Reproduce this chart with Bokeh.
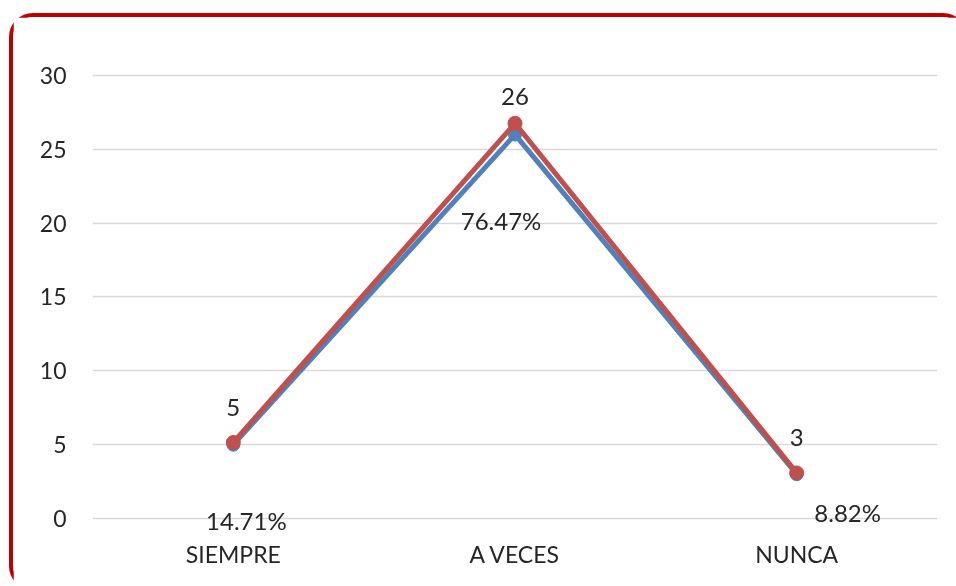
from bokeh.plotting import figure
from bokeh.models import ColumnDataSource, FixedTicker, Range1d
from bokeh.core.properties import value
from bokeh.embed import file_html
from bokeh.resources import INLINE

categories = ["SIEMPRE", "A VECES", "NUNCA"]
frecuencia = [5, 26, 3]
porcentaje = [14.71, 76.47, 8.82]
y_ticks = [0, 5, 10, 15, 20, 25, 30]

# stacked line (Excel "line stacked"): second series sits on top of the first
apilado = [f + p / 100.0 for f, p in zip(frecuencia, porcentaje)]

FONT = "Lato"
TXT = "#262626"
BLUE = "#4F81BD"
RED = "#C0504D"

p = figure(x_range=categories, y_range=Range1d(-0.95, 30.34), width=958, height=577,
           output_backend="svg", toolbar_location=None,
           min_border_left=79, min_border_right=34, min_border_top=53,
           min_border_bottom=62)
p.styles = {"position": "fixed", "left": "9px", "top": "13px",
            "border": "4px solid #C00000", "border-radius": "24px"}
p.outline_line_color = None
p.background_fill_color = "white"
p.border_fill_color = "white"

p.xgrid.grid_line_color = None
p.ygrid.grid_line_color = "#D9D9D9"
p.ygrid.grid_line_width = 1.5
p.yaxis.ticker = FixedTicker(ticks=y_ticks)
for ax in (p.xaxis, p.yaxis):
    ax.axis_line_color = None
    ax.major_tick_line_color = None
    ax.minor_tick_line_color = None
    ax.major_label_text_font = FONT
    ax.major_label_text_color = TXT
    ax.major_label_text_font_size = "23px"
p.yaxis.major_label_standoff = 20
p.xaxis.major_label_standoff = 1

src_b = ColumnDataSource(dict(x=categories, y=frecuencia,
                              lab=[str(v) for v in frecuencia],
                              dx=[0, 0, 0], dy=[-37, -38, -37]))
src_r = ColumnDataSource(dict(x=categories, y=apilado,
                              lab=["%.2f%%" % v for v in porcentaje],
                              dx=[13, -14, 51], dy=[78, 97, 40]))

p.line("x", "y", source=src_b, line_color=BLUE, line_width=5)
p.scatter("x", "y", source=src_b, size=13, fill_color=BLUE, line_color=BLUE)
p.line("x", "y", source=src_r, line_color=RED, line_width=5)
p.scatter("x", "y", source=src_r, size=14, fill_color=RED, line_color=RED)

p.text("x", "y", text="lab", source=src_b, x_offset="dx", y_offset="dy",
       text_font=value(FONT), text_font_size="24px", text_color=TXT,
       text_align="center", text_baseline="middle")
p.text("x", "y", text="lab", source=src_r, x_offset="dx", y_offset="dy",
       text_font=value(FONT), text_font_size="24px", text_color=TXT,
       text_align="center", text_baseline="middle")

open("out.html", "w").write(file_html(p, INLINE))
